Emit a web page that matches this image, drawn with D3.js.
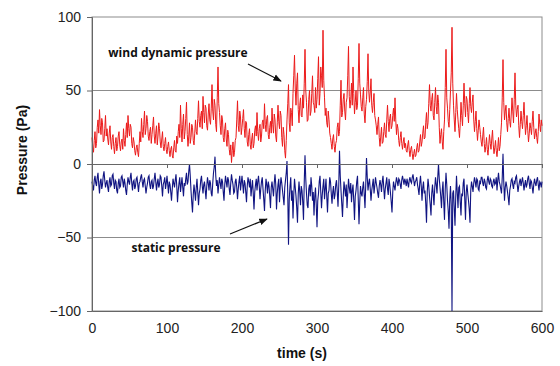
<!DOCTYPE html>
<html>
<head>
<meta charset="utf-8">
<script src="https://cdn.jsdelivr.net/npm/d3@7"></script>
<style>
  html, body { margin: 0; padding: 0; background: #fff; }
  svg { display: block; }
</style>
</head>
<body>
<svg id="chart" width="560" height="366"></svg>
<script>
// sample spacing of the two records (s)
const sampleStep = 1;

// wind dynamic pressure (Pa), one value per second from t = 0, 20 s per row
const windPressure = [
  18, 12, 8, 16, 22, 11, 14, 25, 30, 21, 37, 26, 20, 31, 28, 15, 16, 24, 33, 19,
  24, 17, 13, 21, 26, 15, 10, 18, 20, 12, 7, 14, 18, 9, 12, 19, 22, 13, 9, 15,
  17, 10, 24, 16, 12, 20, 28, 18, 33, 24, 19, 27, 25, 14, 11, 18, 15, 9, 6, 11,
  13, 8, 5, 14, 22, 15, 31, 22, 18, 27, 36, 20, 24, 33, 29, 19, 16, 22, 25, 14,
  20, 26, 32, 19, 14, 21, 26, 13, 19, 28, 24, 15, 11, 17, 22, 12, 9, 14, 18, 10,
  7, 12, 15, 9, 5, 10, 12, 6, 4, 11, 16, 9, 8, 19, 14, 22, 27, 18, 40, 24,
  15, 27, 34, 17, 22, 31, 42, 20, 12, 19, 28, 14, 18, 27, 25, 16, 13, 21, 30, 22,
  20, 31, 43, 29, 25, 33, 36, 24, 46, 35, 28, 40, 38, 26, 23, 34, 41, 30, 27, 38,
  54, 36, 30, 44, 40, 27, 22, 45, 66, 41, 35, 26, 20, 33, 30, 18, 15, 24, 28, 17,
  12, 23, 20, 10, 6, 13, 1, 9, 15, 5, 8, 16, 18, 30, 43, 26, 22, 36, 32, 20,
  25, 31, 37, 24, 18, 29, 28, 15, 12, 20, 24, 13, 10, 17, 21, 11, 14, 23, 26, 19,
  35, 22, 16, 24, 27, 15, 19, 28, 30, 24, 41, 27, 22, 31, 33, 20, 17, 25, 29, 21,
  38, 27, 21, 34, 30, 19, 15, 28, 40, 29, 24, 36, 33, 18, 12, 25, 20, 9, 4, 16,
  30, 41, 54, 28, 22, 38, 35, 26, 48, 60, 74, 51, 40, 55, 62, 37, 28, 40, 45, 33,
  32, 47, 38, 55, 78, 50, 42, 29, 30, 44, 50, 33, 36, 48, 60, 42, 40, 35, 52, 38,
  44, 58, 73, 40, 48, 66, 60, 52, 91, 57, 45, 33, 38, 28, 25, 36, 30, 21, 18, 14,
  10, 17, 20, 12, 8, 14, 16, 25, 28, 19, 22, 40, 57, 32, 35, 44, 48, 36, 30, 42,
  45, 60, 80, 46, 38, 44, 55, 40, 66, 48, 34, 42, 50, 37, 40, 58, 82, 55, 47, 39,
  36, 45, 52, 34, 28, 39, 44, 56, 75, 50, 42, 49, 58, 40, 35, 42, 48, 33, 30, 26,
  20, 27, 32, 18, 12, 19, 25, 14, 15, 22, 28, 20, 18, 30, 40, 29, 22, 31, 34, 24,
  26, 33, 38, 29, 45, 30, 20, 27, 24, 16, 12, 18, 22, 14, 10, 15, 18, 11, 14, 9,
  8, 13, 16, 9, 5, 10, 12, 7, 3, 7, 10, 5, 6, 11, 14, 8, 9, 15, 20, 12,
  15, 21, 26, 17, 18, 28, 35, 24, 28, 41, 54, 40, 36, 44, 48, 33, 30, 42, 52, 39,
  34, 47, 42, 25, 14, 20, 24, 15, 10, 22, 30, 52, 78, 45, 38, 29, 25, 37, 50, 62,
  93, 55, 40, 30, 22, 35, 48, 37, 30, 24, 18, 28, 42, 33, 26, 40, 55, 41, 32, 46,
  44, 35, 28, 41, 52, 39, 35, 42, 47, 30, 22, 29, 36, 24, 16, 23, 30, 25, 20, 15,
  12, 19, 25, 14, 8, 12, 18, 10, 6, 13, 20, 14, 10, 17, 23, 13, 7, 11, 16, 9,
  5, 11, 18, 9, 12, 20, 28, 45, 71, 42, 30, 36, 40, 28, 22, 31, 38, 29, 25, 34,
  45, 36, 28, 44, 62, 40, 32, 37, 40, 26, 18, 27, 36, 29, 24, 33, 42, 30, 20, 26,
  33, 23, 15, 21, 28, 24, 20, 29, 36, 25, 17, 21, 24, 18, 14, 22, 34, 27, 22, 30,
  26
];

// static pressure (Pa), same sampling
const staticPressure = [
  -12, -15, -18, -11, -8, -13, -15, -9, -6, -14, -20, -12, -10, -17, -14, -8, -5, -11, -16, -13,
  -11, -16, -19, -12, -9, -15, -14, -8, -7, -13, -17, -11, -12, -18, -20, -13, -10, -16, -15, -9,
  -8, -12, -16, -10, -13, -18, -21, -14, -9, -12, -14, -9, -6, -13, -18, -12, -11, -17, -15, -10,
  -9, -14, -19, -13, -12, -9, -7, -12, -16, -11, -10, -15, -20, -16, -13, -9, -8, -14, -17, -12,
  -11, -17, -15, -10, -6, -12, -18, -13, -10, -16, -14, -8, -9, -15, -22, -14, -12, -9, -17, -13,
  -8, -14, -20, -12, -14, -19, -25, -17, -10, -13, -16, -11, -7, -15, -26, -18, -13, -9, -19, -14,
  -9, -16, -22, -13, -15, -10, -6, -14, -12, -5, 0, -8, -18, -26, -33, -21, -14, -19, -25, -16,
  -10, -19, -28, -20, -17, -11, -8, -15, -20, -14, -12, -18, -24, -15, -9, -13, -18, -11, -13, -20,
  -22, -13, -6, -2, 5, -8, -15, -11, -20, -14, -9, -13, -17, -10, -12, -19, -25, -14, -8, -12,
  -16, -9, -11, -17, -21, -13, -7, -11, -14, -20, -19, -12, -10, -16, -24, -17, -12, -8, -18, -13,
  -8, -14, -20, -11, -13, -19, -26, -15, -9, -12, -16, -10, -22, -16, -11, -20, -31, -19, -14, -10,
  -18, -12, -8, -15, -24, -17, -12, -9, -17, -24, -32, -18, -10, -14, -20, -12, -15, -22, -30, -16,
  -12, -17, -22, -13, -7, -14, -31, -20, -14, -10, -26, -15, -9, -13, -18, -23, -28, -16, -11, -6,
  2, -20, -55, -24, -15, -9, -25, -18, -37, -21, -10, -16, -22, -30, -40, -20, -12, -19, -28, -15,
  -18, -26, -38, -12, 6, -10, -20, -28, -30, -17, -14, -22, -9, -15, -25, -19, -35, -22, -16, -28,
  -43, -25, -20, -12, -8, -19, -30, -21, -15, -10, -24, -17, -10, -22, -33, -20, -18, -9, -12, -20,
  -27, -19, -15, -24, -21, -14, -11, -19, -29, -15, 9, -8, -18, -27, -36, -22, -12, -17, -22, -14,
  -30, -20, -10, -16, -20, -13, -26, -18, -14, -25, -38, -22, -18, -12, -8, -24, -41, -26, -15, -20,
  -22, -16, -12, -21, -30, -14, 4, -9, -18, -13, -10, -17, -25, -18, -14, -10, -20, -15, -9, -13,
  -16, -20, -23, -15, -11, -14, -19, -12, -8, -16, -24, -17, -13, -9, -17, -21, -10, -14, -20, -26,
  -33, -19, -12, -15, -18, -13, -9, -12, -15, -10, -11, -14, -17, -11, -8, -11, -14, -10, -12, -15,
  -10, -13, -16, -11, -9, -12, -13, -9, -7, -11, -15, -12, -11, -9, -14, -17, -21, -13, -8, -15,
  -25, -16, -12, -20, -18, -27, -40, -19, -10, -15, -22, -28, -35, -20, -14, -21, -28, -16, -9, -14,
  -20, -9, 0, -10, -16, -22, -30, -18, -12, -26, -38, -17, -6, -14, -25, -32, -44, -24, -15, -28,
  -100, -20, -18, -30, -42, -22, -8, -19, -30, -16, -15, -26, -35, -20, -22, -13, -10, -24, -38, -19,
  -14, -20, -25, -31, -40, -18, -12, -15, -19, -13, -9, -12, -16, -10, -11, -17, -18, -12, -13, -9,
  -9, -13, -15, -10, -12, -16, -17, -11, -8, -12, -14, -10, -11, -15, -16, -12, -10, -14, -13, -9,
  -18, -11, -6, -12, -14, -17, -20, -9, 7, -12, -25, -16, -12, -15, -19, -23, -28, -18, -15, -11,
  -10, -14, -17, -12, -13, -9, -8, -14, -19, -15, -12, -10, -15, -12, -9, -13, -18, -14, -11, -16,
  -14, -10, -8, -13, -17, -11, -12, -16, -20, -14, -10, -13, -15, -11, -9, -14, -18, -12, -13, -16,
  -12
];

const xTicks = [0, 100, 200, 300, 400, 500, 600];
const yTicks = [-100, -50, 0, 50, 100];
const gridValues = [-50, 50];

const svg = d3.select('#chart');
const margin = { top: 17, right: 18, bottom: 55, left: 92 };
const width = 560 - margin.left - margin.right;
const height = 366 - margin.top - margin.bottom;

const x = d3.scaleLinear().domain([0, 600]).range([0, width]);
const y = d3.scaleLinear().domain([-100, 100]).range([height, 0]);

const g = svg.append('g').attr('transform', `translate(${margin.left},${margin.top})`);

// plot frame
g.append('rect')
  .attr('x', 0).attr('y', 0)
  .attr('width', width).attr('height', height)
  .attr('fill', 'none')
  .attr('stroke', '#8c8c8c')
  .attr('stroke-width', 1);

// gridlines
g.append('g')
  .selectAll('line')
  .data(gridValues)
  .enter()
  .append('line')
  .attr('x1', 0).attr('x2', width)
  .attr('y1', d => y(d)).attr('y2', d => y(d))
  .attr('stroke', '#8c8c8c')
  .attr('stroke-width', 1);

const line = d3.line()
  .x((d, i) => x(i * sampleStep))
  .y(d => y(d));

g.append('path')
  .datum(windPressure)
  .attr('d', line)
  .attr('fill', 'none')
  .attr('stroke', '#ec1a1a')
  .attr('stroke-width', 1);

g.append('path')
  .datum(staticPressure)
  .attr('d', line)
  .attr('fill', 'none')
  .attr('stroke', '#101482')
  .attr('stroke-width', 1.1);

// x axis drawn along the zero line, labels at the bottom
const zeroAxis = g.append('g').attr('transform', `translate(0,${y(0)})`)
  .call(d3.axisBottom(x).tickValues(xTicks).tickSize(4).tickFormat(''));
zeroAxis.select('.domain').attr('stroke', '#666');
zeroAxis.selectAll('.tick line').attr('stroke', '#666');

const xLabels = g.append('g').attr('transform', `translate(0,${height})`)
  .call(d3.axisBottom(x).tickValues(xTicks).tickSize(0).tickPadding(12));
xLabels.select('.domain').attr('stroke', '#666');
xLabels.selectAll('text')
  .attr('font-family', 'Liberation Sans, Arial, sans-serif')
  .attr('font-size', '14px')
  .attr('fill', '#222');

const yAxis = g.append('g')
  .call(d3.axisLeft(y).tickValues(yTicks).tickSize(5).tickPadding(6));
yAxis.select('.domain').attr('stroke', '#666');
yAxis.selectAll('.tick line').attr('stroke', '#666');
yAxis.selectAll('text')
  .attr('font-family', 'Liberation Sans, Arial, sans-serif')
  .attr('font-size', '14px')
  .attr('fill', '#222');

// axis titles
svg.append('text')
  .attr('x', margin.left + width / 2 - 15)
  .attr('y', 358)
  .attr('text-anchor', 'middle')
  .attr('font-family', 'Liberation Sans, Arial, sans-serif')
  .attr('font-size', '14px')
  .attr('font-weight', 'bold')
  .attr('fill', '#111')
  .text('time (s)');

svg.append('text')
  .attr('transform', 'translate(27,150) rotate(-90)')
  .attr('text-anchor', 'middle')
  .attr('font-family', 'Liberation Sans, Arial, sans-serif')
  .attr('font-size', '14px')
  .attr('font-weight', 'bold')
  .attr('fill', '#111')
  .text('Pressure (Pa)');

// annotations
svg.append('defs').append('marker')
  .attr('id', 'arrow')
  .attr('viewBox', '0 0 10 10')
  .attr('refX', 9).attr('refY', 5)
  .attr('markerWidth', 7).attr('markerHeight', 7)
  .attr('orient', 'auto')
  .append('path')
  .attr('d', 'M0,1 L10,5 L0,9 Z')
  .attr('fill', '#111');

const notes = [
  { text: 'wind dynamic pressure', tx: 178, ty: 57, from: [248, 64], to: [281, 81] },
  { text: 'static pressure', tx: 176, ty: 252, from: [230, 234], to: [267, 219] }
];

svg.selectAll('.note')
  .data(notes)
  .enter()
  .append('text')
  .attr('class', 'note')
  .attr('x', d => d.tx)
  .attr('y', d => d.ty)
  .attr('text-anchor', 'middle')
  .attr('font-family', 'Open Sans, sans-serif')
  .attr('font-size', '12px')
  .attr('font-weight', 'bold')
  .attr('fill', '#111')
  .text(d => d.text);

svg.selectAll('.arrow')
  .data(notes)
  .enter()
  .append('line')
  .attr('class', 'arrow')
  .attr('x1', d => d.from[0]).attr('y1', d => d.from[1])
  .attr('x2', d => d.to[0]).attr('y2', d => d.to[1])
  .attr('stroke', '#111')
  .attr('stroke-width', 1.2)
  .attr('marker-end', 'url(#arrow)');
</script>
</body>
</html>
